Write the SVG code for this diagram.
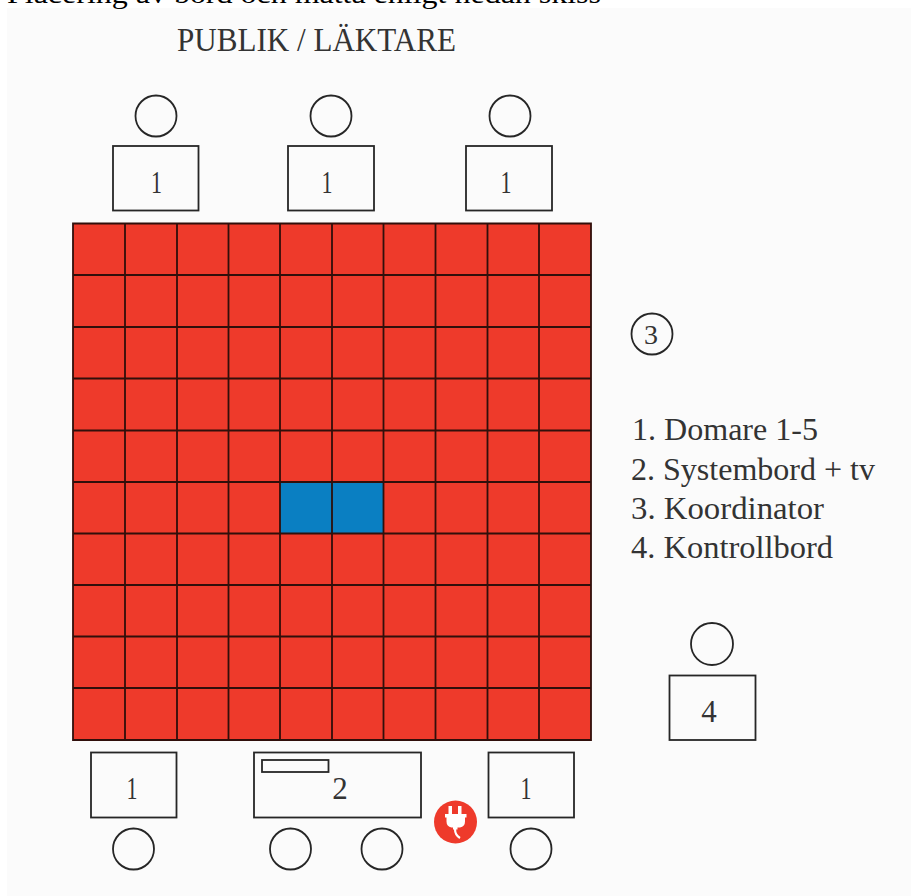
<svg xmlns="http://www.w3.org/2000/svg" width="911" height="896" viewBox="0 0 911 896">
<style>
.t{font-family:"Liberation Serif","Times New Roman",serif;fill:#333}
.n{font-size:31px;text-anchor:middle}
.l{font-size:32px}
.b{fill:none;stroke:#262626;stroke-width:1.8}
.g{fill:none;stroke:#300f0b;stroke-width:1.8}
</style>
<rect width="911" height="896" fill="#ffffff"/>
<rect x="7" y="8" width="904" height="888" fill="#fbfbfb"/>
<text x="7" y="3" font-family="'Liberation Serif','Times New Roman',serif" font-size="27" fill="#000" textLength="594" lengthAdjust="spacingAndGlyphs">Placering av bord och matta enligt nedan skiss</text>
<text class="t" x="177" y="50.500" font-size="33" textLength="279" lengthAdjust="spacingAndGlyphs">PUBLIK / LÄKTARE</text>

<g id="mat">
<rect x="73" y="223.500" width="518" height="516.500" fill="#ee3a2b"/>
<rect x="280" y="482" width="103.500" height="51.500" fill="#0a7fc2"/>
<path class="g" d="M73 223.500H591V740H73ZM125 223.500V740M177 223.500V740M228.500 223.500V740M280 223.500V740M332 223.500V740M383.500 223.500V740M435.500 223.500V740M487.500 223.500V740M539 223.500V740M73 275H591M73 327H591M73 378.500H591M73 430.500H591M73 482H591M73 533.500H591M73 585H591M73 636.500H591M73 688H591"/>
</g>

<g id="judge-top-1"><circle class="b" cx="156" cy="116" r="20.500"/><rect class="b" x="113" y="146" width="85.500" height="64.500"/><text class="t n" x="156.500" y="193" textLength="11" lengthAdjust="spacingAndGlyphs">1</text></g>
<g id="judge-top-2"><circle class="b" cx="331" cy="116" r="20.500"/><rect class="b" x="288" y="146" width="86" height="64.500"/><text class="t n" x="327" y="193" textLength="11" lengthAdjust="spacingAndGlyphs">1</text></g>
<g id="judge-top-3"><circle class="b" cx="510" cy="116" r="20.500"/><rect class="b" x="466" y="146" width="86" height="64.500"/><text class="t n" x="506" y="193" textLength="11" lengthAdjust="spacingAndGlyphs">1</text></g>

<g id="coordinator"><circle class="b" cx="652" cy="334" r="20.500"/><text class="t" x="651" y="343.500" font-size="28" text-anchor="middle">3</text></g>

<g id="legend">
<text class="t l" x="632" y="440" textLength="186" lengthAdjust="spacingAndGlyphs">1. Domare 1-5</text>
<text class="t l" x="631" y="479.500" textLength="244" lengthAdjust="spacingAndGlyphs">2. Systembord + tv</text>
<text class="t l" x="631" y="518.500" textLength="193" lengthAdjust="spacingAndGlyphs">3. Koordinator</text>
<text class="t l" x="631" y="557.500" textLength="202" lengthAdjust="spacingAndGlyphs">4. Kontrollbord</text>
</g>

<g id="control"><circle class="b" cx="712" cy="644" r="21"/><rect class="b" x="669.500" y="675.500" width="86" height="64.500"/><text class="t n" x="709" y="722">4</text></g>

<g id="judge-bottom-1"><rect class="b" x="91" y="752.500" width="85.500" height="65"/><text class="t n" x="132" y="799" textLength="11" lengthAdjust="spacingAndGlyphs">1</text><circle class="b" cx="133.500" cy="849" r="20.500"/></g>
<g id="system"><rect class="b" x="254" y="752.500" width="167" height="65"/><rect class="b" x="262" y="760" width="66.500" height="12"/><text class="t n" x="340" y="799">2</text><circle class="b" cx="290.500" cy="849" r="20.500"/><circle class="b" cx="382" cy="849" r="20.500"/></g>
<g id="judge-bottom-2"><rect class="b" x="488.500" y="752.500" width="85.500" height="65"/><text class="t n" x="526" y="799" textLength="11" lengthAdjust="spacingAndGlyphs">1</text><circle class="b" cx="531" cy="849" r="20.500"/></g>

<g id="plug">
<circle cx="455.500" cy="822" r="21.500" fill="#ee3a2b"/>
<path fill="#fff" d="M448.500 806h3.500v8h6v-8h3.500v8h5v3.500h-1.500v4q0 5-5 6h-2.500v2h-4.500v-2h-1.500q-5-1-5-6v-4h-1.500v-3.500h3.500z"/>
<path fill="none" stroke="#fff" stroke-width="2.200" d="M455 829q0 6 5 9"/>
</g>
</svg>
